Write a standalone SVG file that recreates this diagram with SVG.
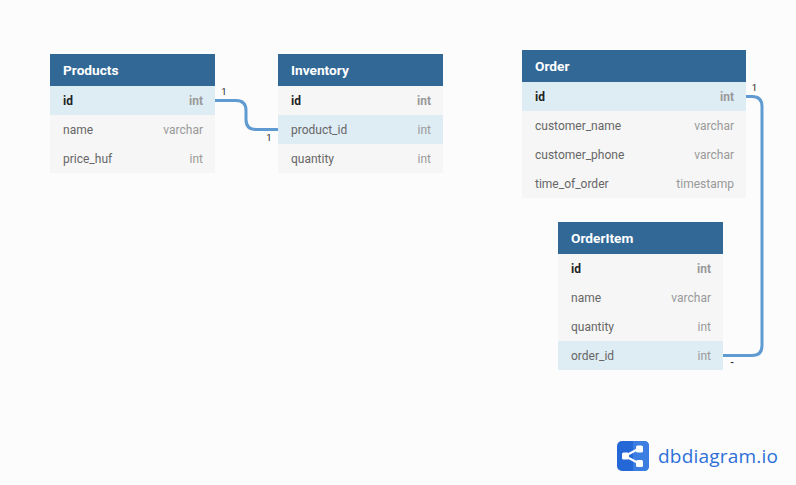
<svg xmlns="http://www.w3.org/2000/svg" width="796" height="485" viewBox="0 0 796 485">
<style>
text{font-family:Roboto,"Liberation Sans",sans-serif;font-size:12px}
.h{fill:#316896}
.r{fill:#f6f6f6}
.a{fill:#deecf4}
.t{fill:#fff;font-size:13.700px;font-weight:700}
.n{fill:#666}
.p{fill:#222;font-weight:700}
.y{fill:#999;text-anchor:end}
.yb{fill:#999;text-anchor:end;font-weight:700}
.c{fill:none;stroke:#5f9bd0;stroke-width:3}
.m{fill:#222;font-size:9.500px;text-anchor:middle}
</style>
<rect width="796" height="485" fill="#fcfcfc"/>
<g id="connectors">
<path class="c" d="M215 100.500H236Q246 100.500 246 110.500V119.500Q246 129.500 256 129.500H278"/>
<path class="c" d="M746 96.500H752Q762 96.500 762 106.500V345.500Q762 355.500 752 355.500H723"/>
<text class="m" x="224" y="95">1</text>
<text class="m" x="269" y="141">1</text>
<text class="m" x="754.500" y="91">1</text>
<text class="m" x="732" y="365" font-weight="700">-</text>
</g>
<g id="Products">
<rect class="h" x="50" y="54" width="165" height="32"/>
<rect class="a" x="50" y="86" width="165" height="29"/>
<rect class="r" x="50" y="115" width="165" height="58"/>
<text class="t" x="63" y="75">Products</text>
<text class="p" x="63" y="105">id</text><text class="yb" x="203" y="105">int</text>
<text class="n" x="63" y="134">name</text><text class="y" x="203" y="134">varchar</text>
<text class="n" x="63" y="163">price_huf</text><text class="y" x="203" y="163">int</text>
</g>
<g id="Inventory">
<rect class="h" x="278" y="54" width="165" height="32"/>
<rect class="r" x="278" y="86" width="165" height="87"/>
<rect class="a" x="278" y="115" width="165" height="29"/>
<text class="t" x="291" y="75">Inventory</text>
<text class="p" x="291" y="105">id</text><text class="yb" x="431" y="105">int</text>
<text class="n" x="291" y="134">product_id</text><text class="y" x="431" y="134">int</text>
<text class="n" x="291" y="163">quantity</text><text class="y" x="431" y="163">int</text>
</g>
<g id="Order">
<rect class="h" x="522" y="50" width="224" height="32"/>
<rect class="a" x="522" y="82" width="224" height="29"/>
<rect class="r" x="522" y="111" width="224" height="87"/>
<text class="t" x="535" y="71">Order</text>
<text class="p" x="535" y="101">id</text><text class="yb" x="734" y="101">int</text>
<text class="n" x="535" y="130">customer_name</text><text class="y" x="734" y="130">varchar</text>
<text class="n" x="535" y="159">customer_phone</text><text class="y" x="734" y="159">varchar</text>
<text class="n" x="535" y="188">time_of_order</text><text class="y" x="734" y="188">timestamp</text>
</g>
<g id="OrderItem">
<rect class="h" x="558" y="222" width="165" height="32"/>
<rect class="r" x="558" y="254" width="165" height="87"/>
<rect class="a" x="558" y="341" width="165" height="29"/>
<text class="t" x="571" y="243">OrderItem</text>
<text class="p" x="571" y="273">id</text><text class="yb" x="711" y="273">int</text>
<text class="n" x="571" y="302">name</text><text class="y" x="711" y="302">varchar</text>
<text class="n" x="571" y="331">quantity</text><text class="y" x="711" y="331">int</text>
<text class="n" x="571" y="360">order_id</text><text class="y" x="711" y="360">int</text>
</g>
<g id="logo">
<rect x="617" y="441" width="32" height="30" rx="5" fill="#2468d8"/>
<path d="M633 441H644Q649 441 649 446V466Q649 471 644 471H633Z" fill="#3b7de0"/>
<path d="M625 456L640 448M625 456L640 464" stroke="#fff" stroke-width="2" fill="none"/>
<rect x="622" y="452.500" width="7" height="7" rx="1.500" fill="#fff"/>
<rect x="636" y="445.500" width="7" height="7" rx="1.500" fill="#fff"/>
<rect x="636" y="460" width="7" height="7" rx="1.500" fill="#fff"/>
<text x="658" y="463" style="font-family:'Open Sans',sans-serif;font-size:19px" fill="#2d6fd8" textLength="120" lengthAdjust="spacing">dbdiagram.io</text>
</g>
</svg>
